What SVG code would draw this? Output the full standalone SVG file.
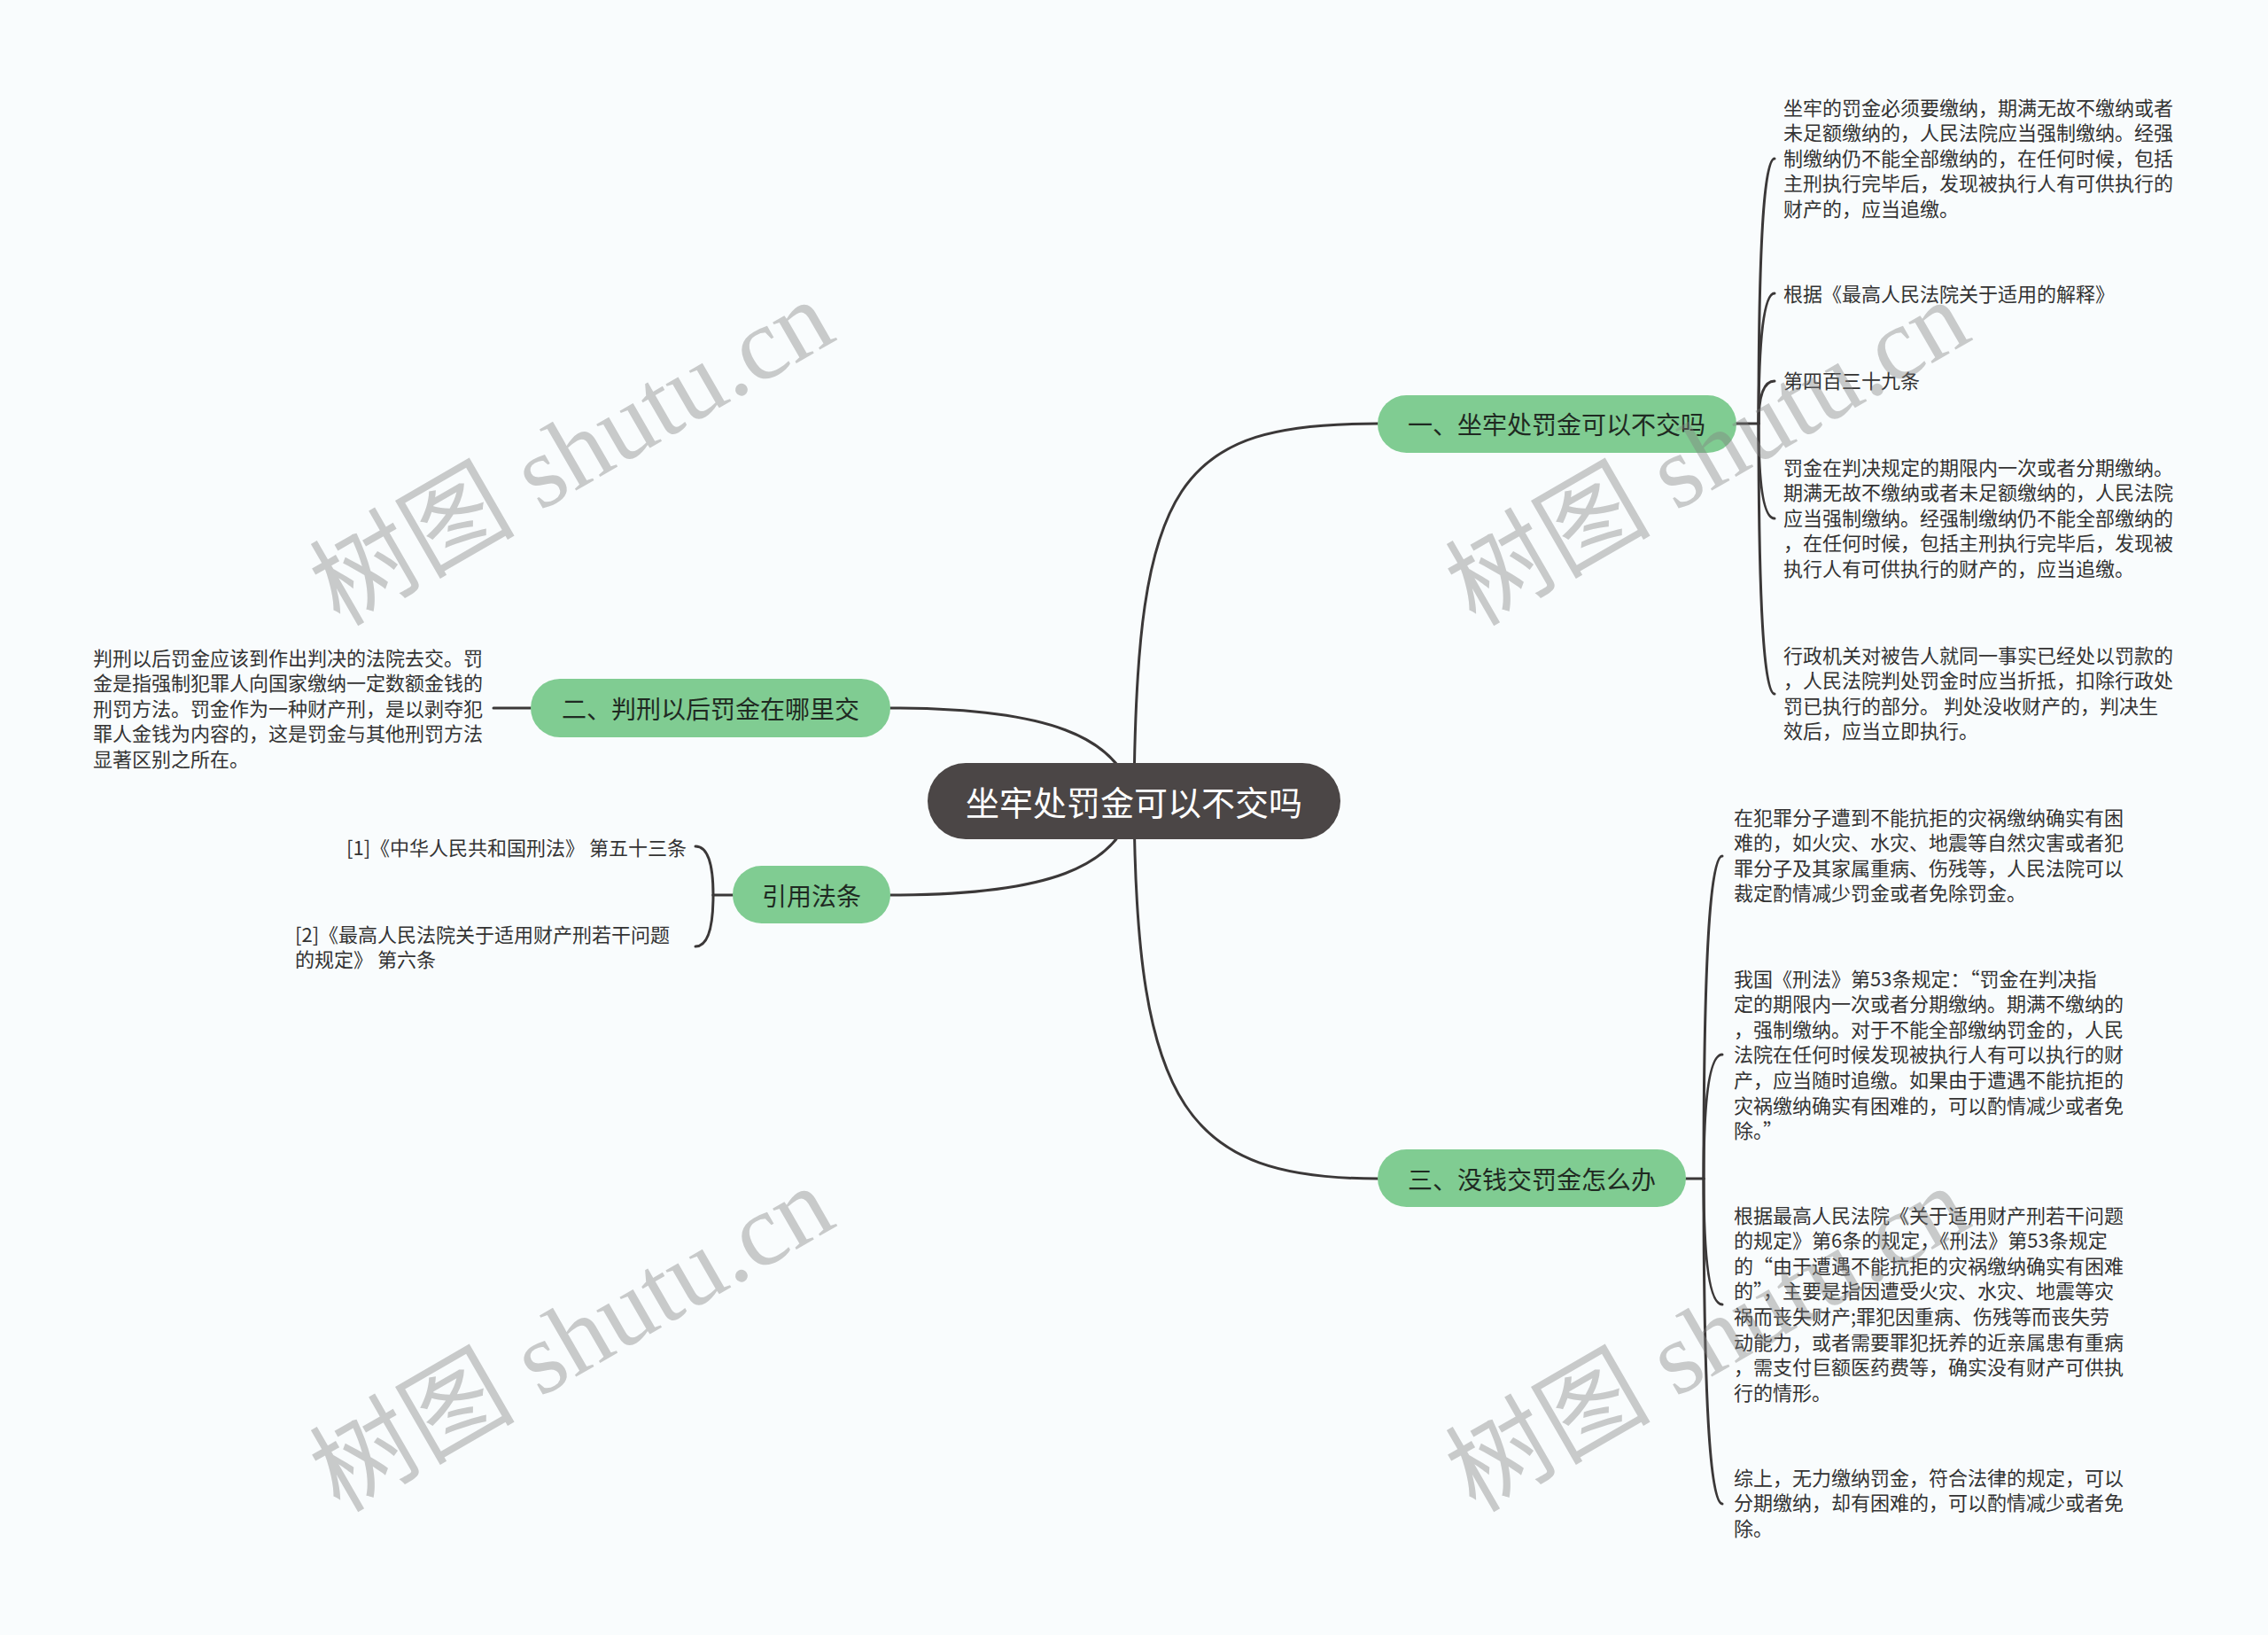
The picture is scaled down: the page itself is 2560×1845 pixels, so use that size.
<svg xmlns="http://www.w3.org/2000/svg" width="2560" height="1845" viewBox="0 0 2560 1845">
<style>
text{font-family:"Noto Sans CJK SC","Noto Sans",sans-serif;dominant-baseline:central}
.item{font-size:22px;fill:#333333;transform:translateY(-2.5px)}
.lbl{font-size:28px;fill:#1f2a22;text-anchor:middle}
.root{font-size:38px;fill:#ffffff;text-anchor:middle}
.pill{fill:#80cc92}
.c{fill:none;stroke:#3b3838;stroke-width:3;stroke-linecap:round}
.wm{font-family:"Liberation Serif","Noto Sans CJK SC",serif;font-size:116px;fill:#808080;opacity:.4;text-anchor:middle;dominant-baseline:alphabetic}
</style>
<rect width="2560" height="1845" fill="#f9fcfd"/>
<g id="connectors">
<path class="c" d="M1280 904 C1282 540 1330 478 1555 478"/>
<path class="c" d="M1280 904 C1282 1250 1340 1330 1555 1330"/>
<path class="c" d="M1280 904 C1265 830 1180 799 1005 799"/>
<path class="c" d="M1280 904 C1265 980 1180 1010 1005 1010"/>
<path class="c" d="M1960 478 L1985 478"/>
<path class="c" d="M1985 478 Q1985 179 2003 179"/>
<path class="c" d="M1985 478 Q1985 331 2003 331"/>
<path class="c" d="M1985 478 Q1985 430 2003 430"/>
<path class="c" d="M1985 478 Q1985 585 2003 585"/>
<path class="c" d="M1985 478 Q1985 783 2003 783"/>
<path class="c" d="M1903 1330 L1923 1330"/>
<path class="c" d="M1923 1330 Q1923 966 1944 966"/>
<path class="c" d="M1923 1330 Q1923 1190 1944 1190"/>
<path class="c" d="M1923 1330 Q1923 1472 1944 1472"/>
<path class="c" d="M1923 1330 Q1923 1697 1944 1697"/>
<path class="c" d="M599 799 L557 799"/>
<path class="c" d="M827 1010 L805 1010"/>
<path class="c" d="M805 1010 Q805 955 785 955"/>
<path class="c" d="M805 1010 Q805 1068 785 1068"/>
</g>
<g id="root">
<rect x="1047" y="861" width="466" height="86" rx="43" fill="#4b4646"/>
<text class="root" x="1280" y="903">坐牢处罚金可以不交吗</text>
</g>
<g id="n1">
<rect class="pill" x="1555" y="446" width="405" height="65" rx="32.5"/>
<text class="lbl" x="1757" y="478">一、坐牢处罚金可以不交吗</text>
</g>
<g id="n2">
<rect class="pill" x="599" y="766" width="406" height="66" rx="33"/>
<text class="lbl" x="802" y="799">二、判刑以后罚金在哪里交</text>
</g>
<g id="n3">
<rect class="pill" x="1555" y="1297" width="348" height="65" rx="32.5"/>
<text class="lbl" x="1729" y="1330">三、没钱交罚金怎么办</text>
</g>
<g id="n4">
<rect class="pill" x="827" y="977" width="178" height="65" rx="32.5"/>
<text class="lbl" x="916" y="1010">引用法条</text>
</g>
<g id="a1">
<text class="item"><tspan x="2013" y="122">坐牢的罚金必须要缴纳，期满无故不缴纳或者</tspan><tspan x="2013" y="150.6">未足额缴纳的，人民法院应当强制缴纳。经强</tspan><tspan x="2013" y="179.2">制缴纳仍不能全部缴纳的，在任何时候，包括</tspan><tspan x="2013" y="207.8">主刑执行完毕后，发现被执行人有可供执行的</tspan><tspan x="2013" y="236.4">财产的，应当追缴。</tspan></text>
</g>
<g id="a2">
<text class="item" x="2013" y="332">根据《最高人民法院关于适用的解释》</text>
</g>
<g id="a3">
<text class="item" x="2013" y="430">第四百三十九条</text>
</g>
<g id="a4">
<text class="item"><tspan x="2013" y="528">罚金在判决规定的期限内一次或者分期缴纳。</tspan><tspan x="2013" y="556.6">期满无故不缴纳或者未足额缴纳的，人民法院</tspan><tspan x="2013" y="585.2">应当强制缴纳。经强制缴纳仍不能全部缴纳的</tspan><tspan x="2013" y="613.8">，在任何时候，包括主刑执行完毕后，发现被</tspan><tspan x="2013" y="642.4">执行人有可供执行的财产的，应当追缴。</tspan></text>
</g>
<g id="a5">
<text class="item"><tspan x="2013" y="740">行政机关对被告人就同一事实已经处以罚款的</tspan><tspan x="2013" y="768.6">，人民法院判处罚金时应当折抵，扣除行政处</tspan><tspan x="2013" y="797.2">罚已执行的部分。 判处没收财产的，判决生</tspan><tspan x="2013" y="825.8">效后，应当立即执行。</tspan></text>
</g>
<g id="b1">
<text class="item"><tspan x="105" y="743">判刑以后罚金应该到作出判决的法院去交。罚</tspan><tspan x="105" y="771.6">金是指强制犯罪人向国家缴纳一定数额金钱的</tspan><tspan x="105" y="800.2">刑罚方法。罚金作为一种财产刑，是以剥夺犯</tspan><tspan x="105" y="828.8">罪人金钱为内容的，这是罚金与其他刑罚方法</tspan><tspan x="105" y="857.4">显著区别之所在。</tspan></text>
</g>
<g id="r1">
<text class="item" x="775" y="957" text-anchor="end">[1]《中华人民共和国刑法》 第五十三条</text>
</g>
<g id="r2">
<text class="item"><tspan x="333" y="1055">[2]《最高人民法院关于适用财产刑若干问题</tspan><tspan x="333" y="1083.6">的规定》 第六条</tspan></text>
</g>
<g id="c1">
<text class="item"><tspan x="1957" y="923">在犯罪分子遭到不能抗拒的灾祸缴纳确实有困</tspan><tspan x="1957" y="951.6">难的，如火灾、水灾、地震等自然灾害或者犯</tspan><tspan x="1957" y="980.2">罪分子及其家属重病、伤残等，人民法院可以</tspan><tspan x="1957" y="1008.8">裁定酌情减少罚金或者免除罚金。</tspan></text>
</g>
<g id="c2">
<text class="item"><tspan x="1957" y="1105">我国《刑法》第53条规定：“罚金在判决指</tspan><tspan x="1957" y="1133.6">定的期限内一次或者分期缴纳。期满不缴纳的</tspan><tspan x="1957" y="1162.2">，强制缴纳。对于不能全部缴纳罚金的，人民</tspan><tspan x="1957" y="1190.8">法院在任何时候发现被执行人有可以执行的财</tspan><tspan x="1957" y="1219.4">产，应当随时追缴。如果由于遭遇不能抗拒的</tspan><tspan x="1957" y="1248">灾祸缴纳确实有困难的，可以酌情减少或者免</tspan><tspan x="1957" y="1276.6">除。”</tspan></text>
</g>
<g id="c3">
<text class="item"><tspan x="1957" y="1372">根据最高人民法院《关于适用财产刑若干问题</tspan><tspan x="1957" y="1400.6">的规定》第6条的规定，《刑法》第53条规定</tspan><tspan x="1957" y="1429.2">的“由于遭遇不能抗拒的灾祸缴纳确实有困难</tspan><tspan x="1957" y="1457.8">的”，主要是指因遭受火灾、水灾、地震等灾</tspan><tspan x="1957" y="1486.4">祸而丧失财产;罪犯因重病、伤残等而丧失劳</tspan><tspan x="1957" y="1515">动能力，或者需要罪犯抚养的近亲属患有重病</tspan><tspan x="1957" y="1543.6">，需支付巨额医药费等，确实没有财产可供执</tspan><tspan x="1957" y="1572.2">行的情形。</tspan></text>
</g>
<g id="c4">
<text class="item"><tspan x="1957" y="1668">综上，无力缴纳罚金，符合法律的规定，可以</tspan><tspan x="1957" y="1696.6">分期缴纳，却有困难的，可以酌情减少或者免</tspan><tspan x="1957" y="1725.2">除。</tspan></text>
</g>
<g id="watermark">
<text class="wm" transform="translate(665 545) rotate(-30)">树图 shutu.cn</text>
<text class="wm" transform="translate(1947 545) rotate(-30)">树图 shutu.cn</text>
<text class="wm" transform="translate(665 1545) rotate(-30)">树图 shutu.cn</text>
<text class="wm" transform="translate(1947 1545) rotate(-30)">树图 shutu.cn</text>
</g>
</svg>
